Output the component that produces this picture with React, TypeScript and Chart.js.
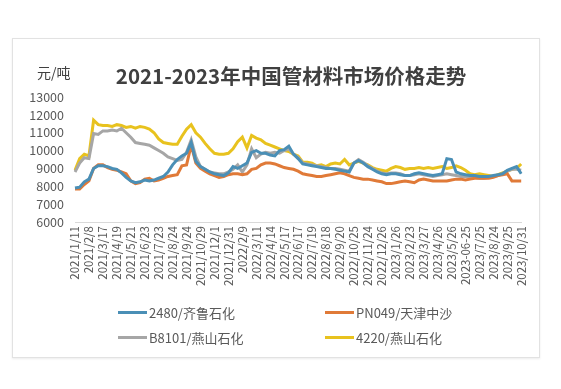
import React, { useEffect, useRef } from 'react';
import { Chart, registerables } from 'chart.js';

Chart.register(...registerables);

const tickLabels = [
  '2021/1/11', '2021/2/8', '2021/3/17', '2021/4/19', '2021/5/21', '2021/6/23', '2021/7/23',
  '2021/8/24', '2021/9/24', '2021/10/29', '2021/12/1', '2021/12/31', '2022/2/9', '2022/3/11',
  '2022/4/14', '2022/5/17', '2022/6/17', '2022/7/19', '2022/8/18', '2022/9/20', '2022/10/25',
  '2022/11/24', '2022/12/26', '2023/1/26', '2023/2/23', '2023/3/27', '2023/4/26', '2023/5/26',
  '2023-06-25', '2023/7/25', '2023/8/24', '2023/9/25', '2023/10/31',
];

// three observations per labelled interval
const categories = tickLabels.flatMap((t, k) => (k < tickLabels.length - 1 ? [t, '', ''] : [t]));

const s2480 = [
  7900, 7950, 8250, 8400, 9000, 9150, 9150, 9100, 9000, 8950,
  8750, 8500, 8300, 8200, 8250, 8350, 8300, 8350, 8450, 8550,
  8800, 9200, 9500, 9700, 9850, 10450, 9400, 9100, 8950, 8800,
  8700, 8650, 8600, 8750, 9100, 9000, 9150, 9300, 9900, 10000,
  9850, 9850, 9750, 9700, 10000, 10050, 10250, 9800, 9550, 9250,
  9200, 9150, 9100, 9050, 9000, 9000, 8950, 8900, 8850, 8800,
  9300, 9450, 9300, 9100, 8950, 8800, 8700, 8650, 8700, 8700,
  8650, 8600, 8600, 8700, 8750, 8700, 8650, 8600, 8650, 8700,
  9550, 9500, 8800, 8700, 8650, 8600, 8600, 8550, 8550, 8550,
  8600, 8650, 8700, 8900, 9000, 9100, 8700,
];

const sPN049 = [
  7850, 7850, 8100, 8300, 9000, 9200, 9200, 9050, 8950, 8900,
  8800, 8700, 8300, 8150, 8200, 8400, 8450, 8300, 8350, 8450,
  8550, 8600, 8650, 9150, 9200, 10300, 9300, 9000, 8850, 8700,
  8600, 8500, 8550, 8650, 8700, 8700, 8650, 8700, 8950, 9000,
  9200, 9300, 9300, 9250, 9150, 9050, 9000, 8950, 8850, 8700,
  8650, 8600, 8550, 8550, 8600, 8650, 8700, 8750, 8700, 8600,
  8500, 8450, 8400, 8400, 8350, 8300, 8250, 8150, 8150, 8200,
  8250, 8300, 8250, 8200, 8350, 8400, 8350, 8300, 8300, 8300,
  8300, 8350, 8400, 8400, 8350, 8400, 8450, 8450, 8450, 8450,
  8500, 8600, 8650, 8700, 8300, 8300, 8300,
];

const sB8101 = [
  8800, 9300, 9600, 9550, 10950, 10900, 11100, 11100, 11150, 11100,
  11250, 11000, 10750, 10450, 10400, 10350, 10300, 10150, 10000, 9850,
  9650, 9550, 9450, 9500, 9900, 10600, 9650, 9100, 8950, 8800,
  8750, 8700, 8700, 8800, 8950, 9200, 8800, 9200, 10100, 9600,
  9800, 9900, 9850, 9900, 9850, 10000, 10100, 9800, 9600, 9300,
  9250, 9200, 9150, 9100, 9050, 9000, 9000, 8950, 8900, 8850,
  9300, 9500, 9350, 9150, 9000, 8850, 8750, 8700, 8750, 8750,
  8700, 8600, 8600, 8650, 8700, 8650, 8600, 8550, 8600, 8650,
  8700, 8650, 8600, 8550, 8550, 8500, 8500, 8450, 8450, 8500,
  8550, 8600, 8700, 8850, 8950, 8950, 8900,
];

const s4220 = [
  8900, 9550, 9800, 9700, 11700, 11450, 11400, 11400, 11350, 11450,
  11400, 11300, 11350, 11250, 11350, 11300, 11200, 11000, 10650, 10450,
  10400, 10350, 10350, 10800, 11200, 11450, 11000, 10750, 10400, 10100,
  9850, 9800, 9800, 9850, 10100, 10500, 10750, 10150, 10850, 10700,
  10600, 10400, 10300, 10200, 10100, 10000, 9950, 9800, 9700, 9350,
  9350, 9300, 9150, 9200, 9100, 9250, 9300, 9250, 9500, 9200,
  9300, 9400, 9300, 9200, 9050, 8950, 8900, 8850, 9000, 9100,
  9050, 8950, 9000, 9000, 9050, 9000, 9050, 9000, 9050, 9100,
  9000, 9050, 9150, 9050, 8900, 8700, 8650, 8700, 8650, 8600,
  8550, 8650, 8750, 8850, 8950, 9000, 9250,
];

const seriesNames = ['2480/齐鲁石化', 'PN049/天津中沙', 'B8101/燕山石化', '4220/燕山石化'];
const seriesValues = [s2480, sPN049, sB8101, s4220];
const seriesColors = ['#4a8fb6', '#e07a38', '#a6a6a6', '#e8c21e'];

const titleText = '2021-2023年中国管材料市场价格走势';
const unitText = '元/吨';

const FONT = '"Noto Sans CJK SC", "Noto Sans", sans-serif';

export default function App() {
  const canvasRef = useRef<HTMLCanvasElement | null>(null);

  useEffect(() => {
    if (!canvasRef.current) return;
    const chart = new Chart(canvasRef.current, {
      type: 'line',
      data: {
        labels: categories,
        datasets: seriesNames.map((name, i) => ({
          label: name,
          data: seriesValues[i],
          borderColor: seriesColors[i],
          backgroundColor: seriesColors[i],
          borderWidth: 3,
          pointRadius: 0,
          tension: 0,
          fill: false,
        })),
      },
      options: {
        responsive: false,
        animation: false,
        layout: { padding: { left: 10, right: 12, top: 58, bottom: 65 } },
        plugins: {
          legend: { display: false },
          title: { display: false },
          tooltip: { enabled: false },
        },
        scales: {
          x: {
            type: 'category',
            offset: false,
            grid: { display: false, drawTicks: false },
            border: { display: true, color: '#d9d9d9', width: 1 },
            afterFit: (scale: any) => { scale.height = 70; },
            ticks: {
              autoSkip: false,
              minRotation: 90,
              maxRotation: 90,
              padding: 4,
              color: '#595959',
              font: { family: FONT, size: 11.5 },
            },
          },
          y: {
            min: 6000,
            max: 13000,
            grid: { display: false, drawTicks: false },
            border: { display: false },
            afterFit: (scale: any) => { scale.width = 52; },
            ticks: {
              stepSize: 1000,
              autoSkip: false,
              padding: 11,
              color: '#595959',
              font: { family: FONT, size: 12.5 },
              callback: (v: any) => String(v),
            },
          },
        },
      },
    });
    return () => chart.destroy();
  }, []);

  const legendPos = [
    { left: 105, top: 273 },
    { left: 312, top: 273 },
    { left: 105, top: 298 },
    { left: 312, top: 298 },
  ];

  return (
    <div
      style={{
        position: 'absolute',
        left: 12,
        top: 38,
        width: 528,
        height: 320,
        boxSizing: 'border-box',
        border: '1px solid #e2e2e2',
        boxShadow: '0 1px 2px rgba(0,0,0,0.08)',
        background: '#fff',
        fontFamily: FONT,
      }}
    >
      <canvas
        ref={canvasRef}
        width={526}
        height={318}
        style={{ position: 'absolute', left: 0, top: 0, width: 526, height: 318 }}
      />
      <div
        style={{
          position: 'absolute',
          left: 24,
          top: 24,
          fontSize: 14,
          lineHeight: '18px',
          color: '#404040',
          whiteSpace: 'nowrap',
        }}
      >
        {unitText}
      </div>
      <div
        style={{
          position: 'absolute',
          left: 278,
          top: 24,
          transform: 'translateX(-50%)',
          fontSize: 20.5,
          lineHeight: '24px',
          fontWeight: 700,
          color: '#404040',
          whiteSpace: 'nowrap',
        }}
      >
        {titleText}
      </div>
      {seriesNames.map((name, i) => (
        <div
          key={name}
          style={{
            position: 'absolute',
            left: legendPos[i].left,
            top: legendPos[i].top - 9,
            height: 18,
            display: 'flex',
            alignItems: 'center',
            whiteSpace: 'nowrap',
          }}
        >
          <span
            style={{
              display: 'inline-block',
              width: 29,
              height: 3,
              background: seriesColors[i],
              marginRight: 2,
            }}
          />
          <span style={{ fontSize: 13, color: '#595959' }}>{name}</span>
        </div>
      ))}
    </div>
  );
}
